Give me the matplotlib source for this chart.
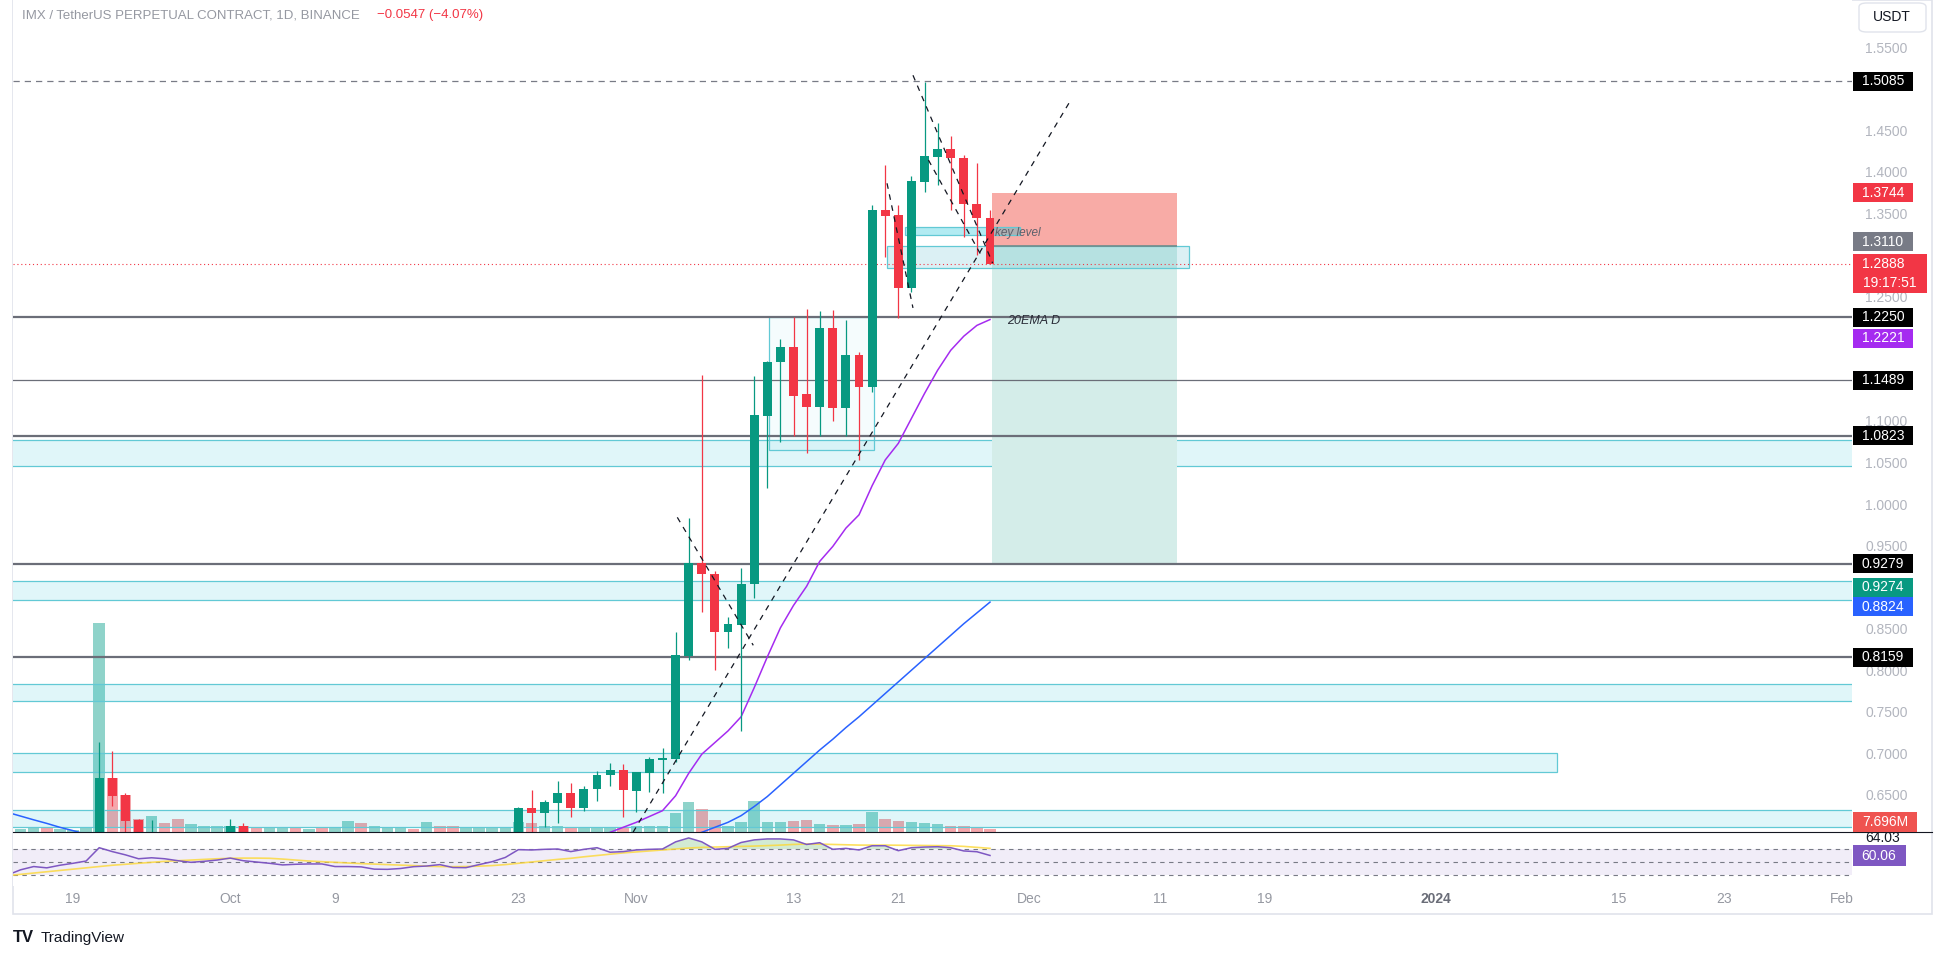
import numpy as np
import matplotlib
matplotlib.use("Agg")
import matplotlib.pyplot as plt
from matplotlib.patches import Rectangle, FancyBboxPatch
from matplotlib.lines import Line2D

plt.rcParams['font.family'] = ['Liberation Sans', 'DejaVu Sans']

# ---------------- data (day 0 = 19 Sep 2023, one bar per day) ----------------
candle_days = [2, 3, 4, 5, 6, 12, 13] + list(range(34, 71))
opens = [0.590, 0.670, 0.650, 0.620, 0.590, 0.600, 0.612,
         0.600, 0.634, 0.628, 0.640, 0.652, 0.634, 0.657, 0.674, 0.680, 0.655, 0.676, 0.692,
         0.693, 0.817, 0.929, 0.916, 0.846, 0.854, 0.904, 1.106, 1.171, 1.189, 1.132, 1.117,
         1.212, 1.116, 1.179, 1.141, 1.354, 1.348, 1.260, 1.387, 1.418, 1.427, 1.416, 1.361, 1.344]
highs = [0.714, 0.703, 0.652, 0.621, 0.620, 0.621, 0.616,
         0.636, 0.656, 0.644, 0.667, 0.664, 0.661, 0.679, 0.688, 0.687, 0.678, 0.696, 0.706,
         0.846, 0.983, 1.155, 0.920, 0.864, 0.923, 1.154, 1.172, 1.199, 1.225, 1.235, 1.232,
         1.233, 1.221, 1.183, 1.360, 1.408, 1.360, 1.395, 1.508, 1.459, 1.443, 1.420, 1.410, 1.354]
lows = [0.585, 0.637, 0.600, 0.590, 0.585, 0.595, 0.598,
        0.596, 0.605, 0.611, 0.616, 0.623, 0.631, 0.643, 0.661, 0.623, 0.629, 0.654, 0.652,
        0.690, 0.812, 0.870, 0.800, 0.827, 0.727, 0.887, 1.019, 1.075, 1.082, 1.061, 1.082,
        1.100, 1.082, 1.053, 1.135, 1.297, 1.224, 1.255, 1.376, 1.384, 1.354, 1.321, 1.300, 1.2888]
closes = [0.670, 0.649, 0.619, 0.598, 0.600, 0.612, 0.604,
          0.634, 0.628, 0.641, 0.652, 0.634, 0.657, 0.674, 0.680, 0.656, 0.678, 0.693, 0.694,
          0.818, 0.929, 0.916, 0.846, 0.856, 0.904, 1.107, 1.171, 1.189, 1.130, 1.117, 1.212,
          1.116, 1.179, 1.141, 1.354, 1.347, 1.260, 1.389, 1.419, 1.427, 1.416, 1.361, 1.344, 1.2888]

vol_days = list(range(-4, 71))
volume_m = [7.5, 12.5, 12.5, 7.5,
            5, 12.5, 522, 135, 92, 32, 40, 22, 32, 20,
            15, 15, 15, 15, 12, 12, 12, 12, 8, 10,
            12, 27, 22, 15, 10, 10, 8, 25, 15, 15,
            10, 10, 10, 12, 25, 22, 15, 15, 12, 10,
            12, 12, 12, 15, 15, 15, 48, 75, 58, 30,
            15, 25, 78, 25, 25, 27, 30, 20, 17, 17,
            20, 50, 32, 27, 25, 22, 20, 15, 15, 12, 7.696]
vol_dir = "uudu" + "uuuddduddu" + "uuudduudud" + "uuduuududd" + "uuuuuduudu" + "uuduuuuudd" + "uuuuuddudu" + "dudduuudddd"

rsi_days = list(range(-5, 71))
rsi = [30, 38, 43, 41, 45,
       48, 51.5, 72, 66, 61, 55, 56.5, 55, 52, 49.5,
       51, 53, 56, 52, 50, 48, 45.5, 46.5, 47, 47,
       43, 43, 42.5, 39, 38.7, 40, 42.8, 43.8, 46, 41.5,
       41.3, 46, 50.5, 57, 69, 68.5, 69.5, 70, 66, 69.5,
       72, 65, 66, 68.5, 69.5, 70, 81, 87, 81, 69.5,
       71, 80, 84, 85.5, 85.5, 84, 77, 79.7, 69.5, 71,
       68.5, 75, 75, 67.4, 72, 73, 73.5, 72, 67, 65.8, 60.06]
rsi_ma = [29, 31, 33, 35, 37,
          39, 41, 43, 45, 46.5, 48, 49.5, 51, 52, 53,
          54, 55, 55.7, 56, 56, 55.7, 54.5, 53, 51.5, 50.5,
          49.5, 48.5, 47.5, 46.8, 46, 45.2, 44.5, 43.5, 43, 42.8,
          43, 43.6, 44.5, 46, 48, 50, 52, 54, 55.7, 58,
          60, 62, 64, 65.5, 67, 68.5, 70, 71.5, 72.5, 73,
          73.5, 74, 74.5, 75.2, 76, 77, 77.7, 77.5, 77, 76.5,
          76, 76, 76, 75.8, 75.6, 75.4, 75.2, 75, 74, 72.5, 71]

ema20_days = list(range(39, 71))
ema20 = [0.590, 0.597, 0.605, 0.611, 0.617, 0.624, 0.631, 0.649, 0.676, 0.699, 0.713, 0.727,
         0.744, 0.779, 0.816, 0.851, 0.878, 0.901, 0.931, 0.949, 0.971, 0.987, 1.022, 1.053,
         1.073, 1.103, 1.133, 1.161, 1.185, 1.202, 1.215, 1.222]
ema50_days_a = list(range(-5, 2))
ema50_a = [0.629, 0.6245, 0.620, 0.6157, 0.611, 0.607, 0.6025]
ema50_days_b = list(range(47, 71))
ema50_b = [0.600, 0.605, 0.611, 0.617, 0.625, 0.636, 0.648, 0.662, 0.676, 0.690, 0.704, 0.717,
           0.731, 0.744, 0.758, 0.772, 0.786, 0.800, 0.814, 0.828, 0.842, 0.856, 0.869, 0.882]

levels = [1.2250, 1.1489, 1.0823, 0.9279, 0.8159]
level_width = [1.6, 0.9, 1.6, 1.6, 1.6]
zones = [(1.046, 1.077, None), (0.884, 0.907, None), (0.763, 0.783, None),
         (0.678, 0.700, 113.3), (0.611, 0.632, None)]
trendlines = [((42.75, 0.605), (76.2, 1.487)),
              ((46.13, 0.984), (51.93, 0.830)),
              ((62.14, 1.386), (64.12, 1.236)),
              ((64.12, 1.516), (70.2, 1.290)),
              ((65.3, 1.414), (69.3, 1.300))]
high_line = 1.5085
last_price = 1.2888
entry, stop, target = 1.3110, 1.3744, 0.9279
pos_days = (70.13, 84.25)

price_ticks = [1.55, 1.45, 1.40, 1.35, 1.25, 1.10, 1.05, 1.00, 0.95, 0.85, 0.80, 0.75, 0.70, 0.65]
time_days = [0, 12, 20, 34, 43, 55, 63, 73, 83, 91, 104, 118, 126, 135]
time_labels = ['19', 'Oct', '9', '23', 'Nov', '13', '21', 'Dec', '11', '19', '2024', '15', '23', 'Feb']

tag_values = [1.5085, 1.3744, 1.3110, 1.2250, 1.2221, 1.1489, 1.0823, 0.9279, 0.9274, 0.8824, 0.8159]
tag_colors = ['#000000', '#f23645', '#787b86', '#000000', '#a52bf0', '#000000', '#000000',
              '#000000', '#089981', '#2962ff', '#000000']
tag_shift = [0, 0, -4, 0, 19, 0, 0, 0, 23, 5, 0]

UP, DN = '#089981', '#f23645'
UPV, DNV = '#8fd3ca', '#f5a6ab'
CYAN_E, CYAN_F = '#62c9d5', (0.0, 0.74, 0.83, 0.12)

# ---------------- layout ----------------
W, H = 1946, 959
X0, X1 = 13, 1852
PANE_B, RSI_B = 832, 886
fig = plt.figure(figsize=(W / 100, H / 100), dpi=100)
fig.patch.set_facecolor('white')


def py(p):
    return 47 + (1.55 - p) * 831


d_left, d_right = (X0 - 73) / 13.1, (X1 - 73) / 13.1

ax_v = fig.add_axes([X0 / W, 1 - PANE_B / H, (X1 - X0) / W, PANE_B / H], zorder=1)
ax = fig.add_axes([X0 / W, 1 - PANE_B / H, (X1 - X0) / W, PANE_B / H], zorder=2)
ax_r = fig.add_axes([X0 / W, 1 - RSI_B / H, (X1 - X0) / W, (RSI_B - PANE_B) / H], zorder=2)
ax.patch.set_alpha(0)
for a in (ax, ax_v, ax_r):
    a.set_xlim(d_left, d_right)
    for s in a.spines.values():
        s.set_visible(False)
ax.set_ylim(1.55 - (PANE_B - 47) / 831, 1.55 + 47 / 831)
ax_v.set_ylim(0, PANE_B * 2.5)
ax_v.set_xticks([]); ax_v.set_yticks([])
ax_r.set_ylim(50 - (RSI_B - 862) / 0.65, 50 + (862 - PANE_B) / 0.65)

# volume
ax_v.bar(vol_days, volume_m, width=0.88, color=[UPV if ch == 'u' else DNV for ch in vol_dir])

# zones
for lo, hi, right in zones:
    xr = d_right + 1 if right is None else right
    ax.add_patch(Rectangle((d_left - 1, lo), xr - d_left + 1, hi - lo, fc=CYAN_F, ec=CYAN_E, lw=0.9, zorder=1))

# position tool
ax.add_patch(Rectangle((pos_days[0], entry), pos_days[1] - pos_days[0], stop - entry, fc='#f8aba6', ec='none', zorder=1.5))
ax.add_patch(Rectangle((pos_days[0], target), pos_days[1] - pos_days[0], entry - target, fc='#d4ede9', ec='none', zorder=1.5))
ax.hlines(entry, pos_days[0], pos_days[1], color='#6f8c8b', lw=1.2, zorder=2.5)

# drawn boxes
ax.add_patch(Rectangle((53.13, 1.065), 61.17 - 53.13, 1.225 - 1.065, fc=(0, 0.74, 0.83, 0.04), ec=CYAN_E, lw=0.9, zorder=2))
ax.add_patch(Rectangle((62.16, 1.2837), 85.2 - 62.16, 1.3105 - 1.2837, fc=(0, 0.6, 0.7, 0.14), ec=CYAN_E, lw=0.9, zorder=2))
ax.add_patch(Rectangle((63.5, 1.3238), 72.3 - 63.5, 1.333 - 1.3238, fc=(0, 0.74, 0.83, 0.3), ec=CYAN_E, lw=0.9, zorder=2))

# horizontal levels
for lv, lw in zip(levels, level_width):
    ax.axhline(lv, color='#6b6e78', lw=lw, zorder=3)
ax.axhline(high_line, color='#787b86', lw=0.9, ls=(0, (5, 4)), zorder=3)
ax.axhline(last_price, color=DN, lw=0.8, ls=(0, (1, 2.5)), zorder=3)

# moving averages
ax.plot(ema20_days, ema20, color='#a52bf0', lw=1.1, zorder=3.5)
ax.plot(ema50_days_a, ema50_a, color='#2962ff', lw=1.1, zorder=3.5)
ax.plot(ema50_days_b, ema50_b, color='#2962ff', lw=1.1, zorder=3.5)

# candles
cd = np.array(candle_days, dtype=float)
o, h, l, c = map(np.array, (opens, highs, lows, closes))
col = np.where(c >= o, UP, DN)
ax.vlines(cd, l, h, colors=col, lw=0.9, zorder=4)
ax.bar(cd, np.maximum(np.abs(c - o), 0.002), bottom=np.minimum(o, c), width=0.68, color=col, zorder=5)

# trend lines
for (xa, ya), (xb, yb) in trendlines:
    ax.plot([xa, xb], [ya, yb], color='#131722', lw=0.9, ls=(0, (4.5, 4.5)), zorder=6)

ax.text(70.4, 1.3265, 'key level', fontsize=8.5, style='italic', color='#5d606b', va='center', zorder=7)
ax.text(71.3, 1.2203, '20EMA D', fontsize=9, style='italic', color='#2a2e39', va='center', zorder=7)

# price scale ticks
ax.yaxis.tick_right()
ax.set_yticks(price_ticks)
ax.set_yticklabels([f'{t:.4f}' for t in price_ticks])
ax.tick_params(axis='y', length=0, pad=9.5, labelsize=10, labelcolor='#b2b5be')
ax.tick_params(axis='x', bottom=False, labelbottom=False)

# RSI pane
rd = np.array(rsi_days, dtype=float)
rv = np.array(rsi)
ax_r.axhspan(30, 70, color='#7e57c2', alpha=0.1, lw=0)
for lv in (70, 50, 30):
    ax_r.axhline(lv, color='#787b86', lw=0.8, ls=(0, (4, 4)))
ax_r.fill_between(rd, rv, 70, where=rv > 70, interpolate=True, color='#4caf50', alpha=0.25, lw=0)
ax_r.plot(rd, rsi_ma, color='#fdd835', lw=1.2, alpha=0.8)
ax_r.plot(rd, rv, color='#7e57c2', lw=1.1)
ax_r.set_yticks([])
ax_r.set_xticks(time_days)
ax_r.set_xticklabels(time_labels)
ax_r.tick_params(axis='x', length=0, pad=4, labelsize=10, labelcolor='#9598a1')
lab = ax_r.get_xticklabels()[time_labels.index('2024')]
lab.set_fontweight('bold'); lab.set_color('#6a6d78')

# ---------------- frame, header, scale labels ----------------
fig.add_artist(Rectangle((X0 / W, 1 - 914 / H), (1932 - X0) / W, 914 / H, transform=fig.transFigure,
                         fill=False, ec='#e0e3eb', lw=1.2, zorder=1))
fig.add_artist(Line2D([X0 / W, 1932 / W], [1 - PANE_B / H] * 2, color='#131722', lw=0.8, zorder=4))


def box(x0, y0, w, hgt, fc, z=6):
    fig.add_artist(Rectangle((x0 / W, 1 - (y0 + hgt) / H), w / W, hgt / H, transform=fig.transFigure,
                             fc=fc, ec='none', zorder=z))


def ftext(x, y, s, z=7, **kw):
    fig.text(x / W, 1 - y / H, s, zorder=z, **kw)


for v, cl, sh in zip(tag_values, tag_colors, tag_shift):
    yc = py(v) + sh
    box(1853, yc - 9.5, 60, 19, cl)
    ftext(1883, yc, f'{v:.4f}', ha='center', va='center', color='white', fontsize=10)

box(1853, 254, 74, 39, DN)
ftext(1883, 264, f'{last_price:.4f}', ha='center', va='center', color='white', fontsize=10)
ftext(1890, 283, '19:17:51', ha='center', va='center', color='white', fontsize=10)

ftext(1883, 838, '64.03', ha='center', va='center', color='#131722', fontsize=10, z=5)
box(1853, 812, 64, 20, '#ef5350')
ftext(1885, 822, '7.696M', ha='center', va='center', color='white', fontsize=10)
box(1853, 845, 53, 21, '#7e57c2')
ftext(1879, 855.5, f'{rsi[-1]:.2f}', ha='center', va='center', color='white', fontsize=10)

fig.add_artist(FancyBboxPatch((1859 / W, 1 - 32 / H), 67 / W, 29 / H, boxstyle='round,pad=0,rounding_size=0.004',
                              transform=fig.transFigure, fc='white', ec='#e0e3eb', lw=1, zorder=6))
ftext(1892, 17, 'USDT', ha='center', va='center', color='#131722', fontsize=10)

ftext(22, 15, 'IMX / TetherUS PERPETUAL CONTRACT, 1D, BINANCE', ha='left', va='center',
      color='#9598a1', fontsize=9.5)
ftext(377, 15, '\u22120.0547 (\u22124.07%)', ha='left', va='center', color='#f23645', fontsize=9.5)

ftext(13, 938, 'TV', ha='left', va='center', color='#131722', fontsize=12, fontweight='bold')
ftext(41, 938, 'TradingView', ha='left', va='center', color='#131722', fontsize=11)

fig.savefig('out.png', dpi=100, facecolor='white')
